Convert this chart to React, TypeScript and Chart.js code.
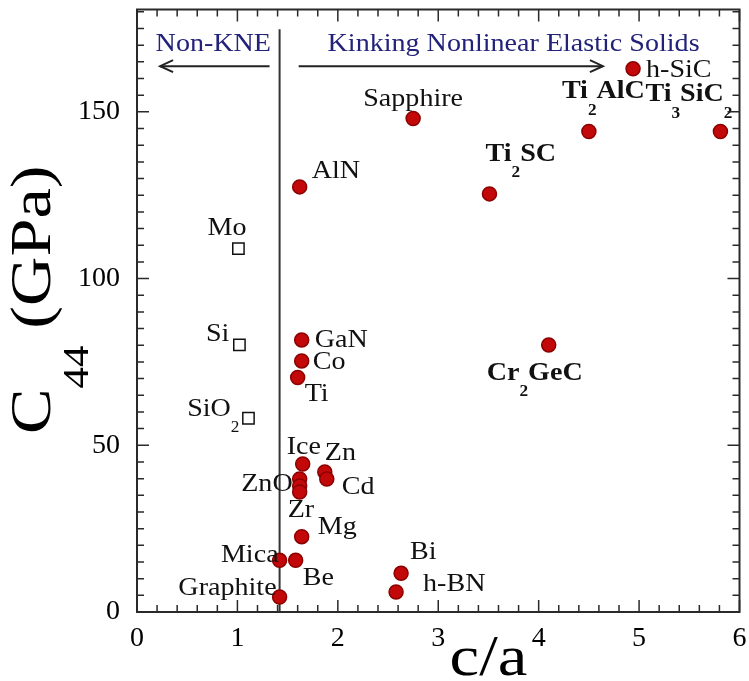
import React, { useEffect, useRef } from "react";
import { Chart, registerables } from "chart.js";

Chart.register(...registerables);

// ---------- data ----------
// Kinking nonlinear elastic solids (filled red circles)
const KNE_NAMES = [
  "Graphite", "Mica", "Be", "Mg", "", "ZnO", "Zr", "Ice", "Zn", "Cd",
  "Bi", "h-BN", "GaN", "Co", "Ti", "AlN", "Sapphire", "Ti_2SC",
  "Ti_2AlC", "h-SiC", "Ti_3SiC_2", "Cr_2GeC",
];
const KNE_CA = [
  1.42, 1.42, 1.58, 1.64, 1.62, 1.62, 1.62, 1.65, 1.87, 1.89,
  2.63, 2.58, 1.64, 1.64, 1.60, 1.62, 2.75, 3.51,
  4.50, 4.94, 5.81, 4.10,
];
const KNE_C44 = [
  4.5, 15.5, 15.5, 22.6, 39.9, 37.8, 36.0, 44.4, 42.0, 39.9,
  11.6, 6.0, 81.6, 75.3, 70.3, 127.5, 148.0, 125.4,
  144.1, 162.9, 144.1, 80.1,
];
// Non-KNE solids (open squares)
const NON_NAMES = ["Mo", "Si", "SiO_2"];
const NON_CA = [1.01, 1.02, 1.11];
const NON_C44 = [109.0, 80.1, 58.1];

// divider and arrows
const DIVIDER_CA = [1.42, 1.42];
const DIVIDER_C44 = [0, 174.8];
const LEFT_ARROW_CA = [1.32, 0.23];
const RIGHT_ARROW_CA = [1.61, 4.64];
const ARROW_C44 = [163.7, 163.7];

// axes
const X_TICKS = [0, 1, 2, 3, 4, 5, 6];
const Y_TICKS = [0, 50, 100, 150];
const X_RANGE = [0, 6];
const Y_RANGE = [0, 180.7];
const X_MINOR_STEP = 0.2;
const Y_MINOR_STEP = 5;

// texts
const X_TITLE = "c/a";
const Y_TITLE = "C_{44} (GPa)";
const HEADER_LEFT = "Non-KNE";
const HEADER_RIGHT = "Kinking Nonlinear Elastic Solids";

// ---------- styles / label layout ----------
const FAMILY = "'Liberation Serif', 'Times New Roman', 'DejaVu Serif', serif";
const BOLD_LABELS = ["Ti_2SC", "Ti_2AlC", "Ti_3SiC_2", "Cr_2GeC"];
// [dx, dy, align] offset of label anchor from point centre (px)
const KNE_LABEL_LAYOUT: [number, number, string][] = [
  [-3, -9, "right"],   // Graphite
  [-1, -5, "right"],   // Mica
  [7, 18, "left"],     // Be
  [16, -9, "left"],    // Mg
  [0, 0, "left"],      // (unlabelled)
  [-7, -2, "right"],   // ZnO
  [-12, 18, "left"],   // Zr
  [-16, -17, "left"],  // Ice
  [0, -19, "left"],    // Zn
  [15, 8, "left"],     // Cd
  [9, -21, "left"],    // Bi
  [27, -8, "left"],    // h-BN
  [13, 0, "left"],     // GaN
  [11, 1, "left"],     // Co
  [7, 17, "left"],     // Ti
  [12, -16, "left"],   // AlN
  [0, -19, "center"],  // Sapphire
  [-4, -40, "left"],   // Ti2SC
  [-27, -40, "left"],  // Ti2AlC
  [13, 1, "left"],     // h-SiC
  [-75, -37, "left"],  // Ti3SiC2
  [-62, 28, "left"],   // Cr2GeC
];
const NON_LABEL_LAYOUT: [number, number, string][] = [
  [8, -20, "right"],   // Mo
  [-10, -11, "right"], // Si
  [-9, -9, "right"],   // SiO2
];
const HEADER_LEFT_POS = { x: 0.76, y: 170.3 };
const HEADER_RIGHT_POS = { x: 3.75, y: 170.3 };
const X_TITLE_AT = 3.5;

type Seg = { t: string; sub: boolean };
function parseRich(text: string): Seg[] {
  const segs: Seg[] = [];
  const re = /_\{([^}]*)\}|_(\d+)/g;
  let last = 0;
  let m: RegExpExecArray | null;
  while ((m = re.exec(text))) {
    if (m.index > last) segs.push({ t: text.slice(last, m.index), sub: false });
    segs.push({ t: m[1] !== undefined ? m[1] : m[2], sub: true });
    last = m.index + m[0].length;
  }
  if (last < text.length) segs.push({ t: text.slice(last), sub: false });
  return segs;
}

function drawRich(
  ctx: CanvasRenderingContext2D,
  text: string,
  x: number,
  y: number,
  o: {
    size: number;
    bold?: boolean;
    align?: string;
    scaleX?: number;
    color?: string;
    subScale?: number;
    subDy?: number;
    baseline?: CanvasTextBaseline;
  }
) {
  const segs = parseRich(text);
  const w = o.bold ? "bold " : "";
  const mainFont = `${w}${o.size}px ${FAMILY}`;
  const subFont = `${w}${Math.round(o.size * (o.subScale ?? 0.62))}px ${FAMILY}`;
  let total = 0;
  const widths: number[] = [];
  for (const s of segs) {
    ctx.font = s.sub ? subFont : mainFont;
    const wd = ctx.measureText(s.t).width;
    widths.push(wd);
    total += wd;
  }
  ctx.save();
  ctx.translate(x, y);
  ctx.scale(o.scaleX ?? 1, 1);
  ctx.fillStyle = o.color ?? "#000";
  ctx.textAlign = "left";
  ctx.textBaseline = o.baseline ?? "middle";
  let cx = o.align === "right" ? -total : o.align === "center" ? -total / 2 : 0;
  segs.forEach((s, i) => {
    ctx.font = s.sub ? subFont : mainFont;
    ctx.fillText(s.t, cx, s.sub ? (o.subDy ?? o.size * 0.73) : 0);
    cx += widths[i];
  });
  ctx.restore();
}

function drawArrowHead(ctx: CanvasRenderingContext2D, fx: number, fy: number, tx: number, ty: number) {
  const ang = Math.atan2(ty - fy, tx - fx);
  const len = 13;
  const half = 6;
  ctx.beginPath();
  ctx.moveTo(tx - len * Math.cos(ang) - half * Math.sin(ang), ty - len * Math.sin(ang) + half * Math.cos(ang));
  ctx.lineTo(tx, ty);
  ctx.lineTo(tx - len * Math.cos(ang) + half * Math.sin(ang), ty - len * Math.sin(ang) - half * Math.cos(ang));
  ctx.stroke();
}

const decorPlugin = {
  id: "decor",
  afterDatasetsDraw(chart: any) {
    const ctx: CanvasRenderingContext2D = chart.ctx;
    const xs = chart.scales.x;
    const ys = chart.scales.y;
    const { left, right, top, bottom } = chart.chartArea;

    // arrow heads
    ctx.save();
    ctx.strokeStyle = "#222";
    ctx.lineWidth = 2;
    drawArrowHead(
      ctx,
      xs.getPixelForValue(LEFT_ARROW_CA[0]), ys.getPixelForValue(ARROW_C44[0]),
      xs.getPixelForValue(LEFT_ARROW_CA[1]), ys.getPixelForValue(ARROW_C44[1])
    );
    drawArrowHead(
      ctx,
      xs.getPixelForValue(RIGHT_ARROW_CA[0]), ys.getPixelForValue(ARROW_C44[0]),
      xs.getPixelForValue(RIGHT_ARROW_CA[1]), ys.getPixelForValue(ARROW_C44[1])
    );
    ctx.restore();

    // point labels
    const kneMeta = chart.getDatasetMeta(0);
    KNE_NAMES.forEach((name, i) => {
      if (!name) return;
      const el = kneMeta.data[i];
      const [dx, dy, align] = KNE_LABEL_LAYOUT[i];
      drawRich(ctx, name, el.x + dx, el.y + dy, {
        size: 26,
        bold: BOLD_LABELS.includes(name),
        align,
        scaleX: 1.08,
        color: "#111",
        subDy: 19,
      });
    });
    const nonMeta = chart.getDatasetMeta(1);
    NON_NAMES.forEach((name, i) => {
      const el = nonMeta.data[i];
      const [dx, dy, align] = NON_LABEL_LAYOUT[i];
      drawRich(ctx, name, el.x + dx, el.y + dy, {
        size: 26,
        align,
        scaleX: 1.08,
        color: "#111",
        subDy: 19,
      });
    });

    // headers
    drawRich(ctx, HEADER_LEFT, xs.getPixelForValue(HEADER_LEFT_POS.x), ys.getPixelForValue(HEADER_LEFT_POS.y), {
      size: 26, align: "center", scaleX: 1.08, color: "#22227a",
    });
    drawRich(ctx, HEADER_RIGHT, xs.getPixelForValue(HEADER_RIGHT_POS.x), ys.getPixelForValue(HEADER_RIGHT_POS.y), {
      size: 26, align: "center", scaleX: 1.08, color: "#22227a",
    });

    // frame
    ctx.save();
    ctx.strokeStyle = "#2a2a2a";
    ctx.lineWidth = 2;
    ctx.strokeRect(left, top, right - left, bottom - top);

    // inward ticks on all four sides
    ctx.lineWidth = 1.5;
    ctx.beginPath();
    const nx = Math.round((X_RANGE[1] - X_RANGE[0]) / X_MINOR_STEP);
    for (let i = 0; i <= nx; i++) {
      const v = X_RANGE[0] + i * X_MINOR_STEP;
      const px = xs.getPixelForValue(v);
      const major = X_TICKS.some((t) => Math.abs(t - v) < 1e-6);
      const L = major ? 12 : 7;
      ctx.moveTo(px, bottom);
      ctx.lineTo(px, bottom - L);
      ctx.moveTo(px, top);
      ctx.lineTo(px, top + L);
    }
    for (let v = Y_RANGE[0]; v <= Y_RANGE[1] + 1e-6; v += Y_MINOR_STEP) {
      const py = ys.getPixelForValue(v);
      const major = Y_TICKS.some((t) => Math.abs(t - v) < 1e-6);
      const L = major ? 12 : 7;
      ctx.moveTo(left, py);
      ctx.lineTo(left + L, py);
      ctx.moveTo(right, py);
      ctx.lineTo(right - L, py);
    }
    ctx.stroke();
    ctx.restore();

    // axis titles
    drawRich(ctx, X_TITLE, xs.getPixelForValue(X_TITLE_AT), 675, {
      size: 58, align: "center", scaleX: 1.15, color: "#000", baseline: "alphabetic",
    });
    ctx.save();
    ctx.translate(35, 434);
    ctx.rotate(-Math.PI / 2);
    drawRich(ctx, Y_TITLE, 0, 0, {
      size: 56, align: "left", scaleX: 1.22, color: "#000", subScale: 0.62, subDy: 44,
    });
    ctx.restore();
  },
};

export default function App() {
  const ref = useRef<HTMLCanvasElement | null>(null);
  useEffect(() => {
    if (!ref.current) return;
    const tickFont = { family: FAMILY, size: 28 };
    const chart = new Chart(ref.current, {
      type: "scatter",
      data: {
        datasets: [
          {
            label: "KNE",
            data: KNE_CA.map((x, i) => ({ x, y: KNE_C44[i] })),
            pointRadius: 7,
            pointHoverRadius: 7,
            backgroundColor: "#c20808",
            borderColor: "#8c0000",
            borderWidth: 1.5,
          },
          {
            label: "Non-KNE",
            data: NON_CA.map((x, i) => ({ x, y: NON_C44[i] })),
            pointStyle: "rect",
            pointRadius: 8,
            pointHoverRadius: 8,
            backgroundColor: "#ffffff",
            borderColor: "#111111",
            borderWidth: 1.5,
          },
          {
            label: "divider",
            data: DIVIDER_CA.map((x, i) => ({ x, y: DIVIDER_C44[i] })),
            showLine: true,
            pointRadius: 0,
            borderColor: "#333333",
            borderWidth: 2,
          },
          {
            label: "left arrow",
            data: LEFT_ARROW_CA.map((x, i) => ({ x, y: ARROW_C44[i] })),
            showLine: true,
            pointRadius: 0,
            borderColor: "#222222",
            borderWidth: 2,
          },
          {
            label: "right arrow",
            data: RIGHT_ARROW_CA.map((x, i) => ({ x, y: ARROW_C44[i] })),
            showLine: true,
            pointRadius: 0,
            borderColor: "#222222",
            borderWidth: 2,
          },
        ],
      },
      options: {
        animation: false,
        responsive: true,
        maintainAspectRatio: false,
        layout: { padding: { left: 0, right: 9, top: 5, bottom: 0 } },
        plugins: { legend: { display: false }, tooltip: { enabled: false } },
        scales: {
          x: {
            type: "linear",
            min: X_RANGE[0],
            max: X_RANGE[1],
            afterFit: (s: any) => { s.height = 69; s.paddingLeft = 0; s.paddingRight = 0; },
            afterBuildTicks: (s: any) => { s.ticks = X_TICKS.map((v) => ({ value: v })); },
            ticks: { font: tickFont, color: "#000", padding: 10, maxRotation: 0, autoSkip: false },
            grid: { display: false, drawTicks: false },
            border: { display: false },
          },
          y: {
            type: "linear",
            min: Y_RANGE[0],
            max: Y_RANGE[1],
            afterFit: (s: any) => { s.width = 137; s.paddingTop = 0; s.paddingBottom = 0; },
            afterBuildTicks: (s: any) => { s.ticks = Y_TICKS.map((v) => ({ value: v })); },
            ticks: { font: tickFont, color: "#000", padding: 17, autoSkip: false },
            grid: { display: false, drawTicks: false },
            border: { display: false },
          },
        },
      } as any,
      plugins: [decorPlugin],
    });
    return () => chart.destroy();
  }, []);
  return (
    <div style={{ position: "fixed", left: 0, top: 0, width: 749, height: 681, background: "#fff" }}>
      <canvas ref={ref} />
    </div>
  );
}
